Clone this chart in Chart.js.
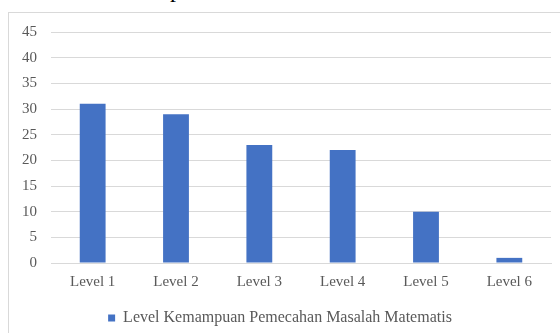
<!DOCTYPE html>
<html>
<head>
<meta charset="utf-8">
<script src="https://cdn.jsdelivr.net/npm/chart.js@4"></script>
<style>
  html, body { margin: 0; padding: 0; background: #fff; overflow: hidden; }
  body { width: 560px; height: 333px; position: relative; }
  #caption {
    position: absolute; left: 0; top: -23px; width: 560px;
    text-align: center; font: 24px/24px "Liberation Serif", serif; color: #000;
    white-space: nowrap;
  }
  #frame {
    position: absolute; left: 8px; top: 12px; width: 552px; height: 324px;
    border-left: 1px solid #d9d9d9; border-top: 1px solid #d9d9d9;
  }
  canvas { display: block; }
</style>
</head>
<body>
<div id="caption">Level Kemampuan Pemecahan Masalah Matematis</div>
<div id="frame"><canvas id="chart" width="551" height="323"></canvas></div>
<script>
const categories = ['Level 1', 'Level 2', 'Level 3', 'Level 4', 'Level 5', 'Level 6'];
const seriesName = 'Level Kemampuan Pemecahan Masalah Matematis';
const seriesValues = [31, 29, 23, 22, 10, 1];
const yTicks = [0, 5, 10, 15, 20, 25, 30, 35, 40, 45];

const textColor = '#595959';
const gridColor = '#d9d9d9';
const barColor = '#4472c4';
const font = { family: '"Liberation Serif", serif', size: 15 };
const legendFont = { family: '"Liberation Serif", serif', size: 16 };

const ctx = document.getElementById('chart').getContext('2d');
const chart = new Chart(ctx, {
    type: 'bar',
    data: {
        labels: categories,
        datasets: [{
            label: seriesName,
            data: seriesValues,
            backgroundColor: barColor,
            borderWidth: 0,
            barPercentage: 0.31,
            categoryPercentage: 1
        }]
    },
    options: {
        responsive: false,
        animation: false,
        layout: { padding: { top: 19, right: 9, bottom: 0, left: 0 } },
        scales: {
            x: {
                grid: { display: false, drawTicks: false },
                border: { display: true, color: gridColor, width: 1 },
                ticks: { color: textColor, font: font, padding: 10, maxRotation: 0 },
                afterFit: (scale) => { scale.height = 42; }
            },
            y: {
                min: 0,
                max: 45,
                afterBuildTicks: (scale) => { scale.ticks = yTicks.map(v => ({ value: v })); },
                grid: { color: gridColor, drawTicks: false },
                border: { display: false },
                ticks: { color: textColor, font: font, padding: 14 },
                afterFit: (scale) => {
                    scale.width = 42;
                    scale.paddingTop = 0;
                    scale.paddingBottom = 0;
                }
            }
        },
        plugins: {
            legend: {
                position: 'bottom',
                labels: {
                    color: textColor,
                    font: legendFont,
                    boxWidth: 7,
                    boxHeight: 7,
                    padding: 5
                }
            },
            tooltip: { enabled: false }
        }
    }
});
</script>
</body>
</html>
